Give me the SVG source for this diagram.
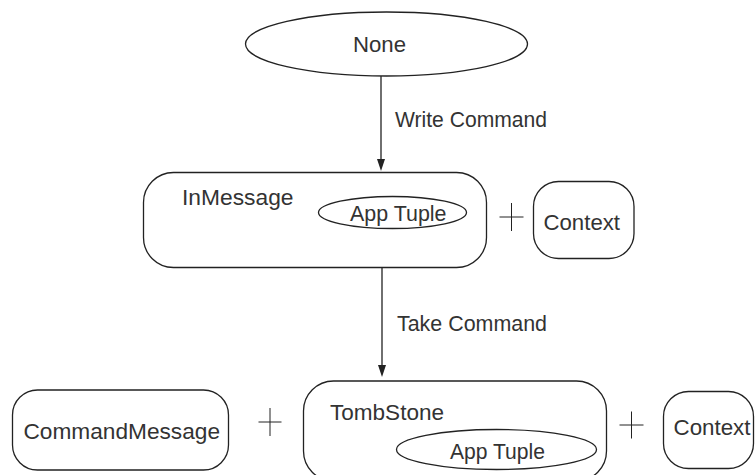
<svg xmlns="http://www.w3.org/2000/svg" width="755" height="475" viewBox="0 0 755 475">
<style>
.shape{fill:#fff;stroke:#222;stroke-width:1.3}
.lbl{font-family:"Liberation Sans",Arial,sans-serif;font-size:22px;fill:#333}
.edge{stroke:#222;stroke-width:1.3;fill:none}
.head{fill:#222}
.plus{stroke:#222;stroke-width:1}
</style>
<rect width="755" height="475" fill="#fff"/>
<g id="connectors">
<line class="edge" x1="381" y1="76" x2="381" y2="159"/>
<path class="head" d="M377,159 L385,159 L381,171 Z"/>
<line class="edge" x1="382" y1="268" x2="382" y2="365"/>
<path class="head" d="M378,365 L386,365 L382,377 Z"/>
<text class="lbl" x="395" y="127" textLength="152" lengthAdjust="spacingAndGlyphs">Write Command</text>
<text class="lbl" x="397" y="331" textLength="150" lengthAdjust="spacingAndGlyphs">Take Command</text>
</g>
<g id="none">
<ellipse class="shape" cx="386.5" cy="44" rx="141" ry="32"/>
<text class="lbl" x="353" y="52" textLength="53" lengthAdjust="spacingAndGlyphs">None</text>
</g>
<g id="inmessage">
<rect class="shape" x="143.5" y="172.5" width="343" height="95" rx="30"/>
<text class="lbl" x="182" y="204.5" textLength="111.5" lengthAdjust="spacingAndGlyphs">InMessage</text>
<ellipse class="shape" cx="392.5" cy="212.5" rx="74" ry="16"/>
<text class="lbl" x="350" y="221" textLength="96.5" lengthAdjust="spacingAndGlyphs">App Tuple</text>
</g>
<g id="plus1"><line class="plus" x1="499.5" y1="217" x2="523.5" y2="217"/><line class="plus" x1="511.5" y1="203" x2="511.5" y2="231"/></g>
<g id="context1">
<rect class="shape" x="533.5" y="181.5" width="100.5" height="77" rx="25"/>
<text class="lbl" x="543.5" y="229.5" textLength="76.5" lengthAdjust="spacingAndGlyphs">Context</text>
</g>
<g id="commandmessage">
<rect class="shape" x="12.5" y="390" width="216" height="80" rx="25"/>
<text class="lbl" x="23.5" y="438.5" textLength="196.5" lengthAdjust="spacingAndGlyphs">CommandMessage</text>
</g>
<g id="plus2"><line class="plus" x1="258.5" y1="422" x2="281.5" y2="422"/><line class="plus" x1="270" y1="408" x2="270" y2="436"/></g>
<g id="tombstone">
<rect class="shape" x="303.5" y="381" width="303" height="100" rx="30"/>
<text class="lbl" x="330" y="420" textLength="114" lengthAdjust="spacingAndGlyphs">TombStone</text>
<ellipse class="shape" cx="496.5" cy="449.5" rx="100" ry="20"/>
<text class="lbl" x="450" y="458.5" textLength="95" lengthAdjust="spacingAndGlyphs">App Tuple</text>
</g>
<g id="plus3"><line class="plus" x1="619.5" y1="425" x2="643.5" y2="425"/><line class="plus" x1="631.5" y1="411.5" x2="631.5" y2="438.5"/></g>
<g id="context2">
<rect class="shape" x="663.5" y="391.5" width="90" height="77" rx="25"/>
<text class="lbl" x="673.5" y="435" textLength="77" lengthAdjust="spacingAndGlyphs">Context</text>
</g>
</svg>
